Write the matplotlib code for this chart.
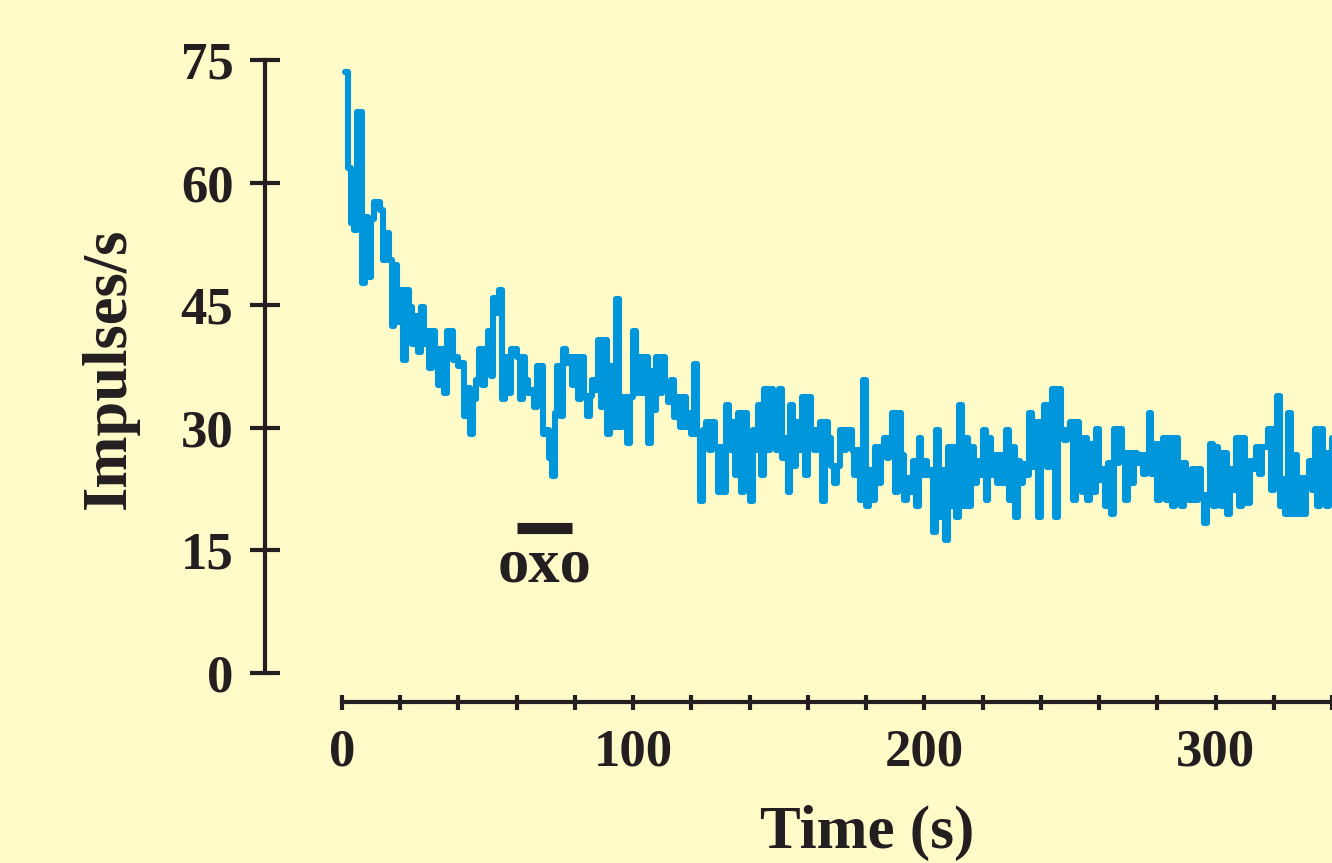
import numpy as np
import matplotlib
matplotlib.use("Agg")
import matplotlib.pyplot as plt

# firing rate, one value per second (t = 1..340 s)
impulser = [
    73.5, 61.8, 55.0, 54.2, 68.6, 68.6, 47.7, 55.8, 48.5, 55.5,
    57.6, 57.6, 56.6, 50.5, 53.8, 50.5, 42.4, 49.9, 43.0, 46.8,
    38.3, 46.8, 44.8, 40.3, 43.7, 39.3, 44.8, 40.3, 41.8, 37.3,
    41.8, 39.7, 35.2, 39.7, 34.2, 41.8, 41.8, 38.3, 38.7, 37.6,
    37.9, 31.4, 34.9, 29.3, 33.5, 35.9, 39.7, 35.2, 39.7, 41.8,
    36.3, 45.9, 44.0, 46.9, 33.5, 38.7, 34.2, 39.7, 39.7, 38.7,
    33.5, 38.7, 35.9, 34.2, 34.6, 32.5, 37.6, 37.6, 29.3, 29.7,
    26.3, 24.1, 31.8, 37.6, 31.4, 39.7, 37.9, 38.7, 35.2, 38.7,
    33.5, 38.7, 33.9, 31.4, 33.9, 35.9, 34.6, 40.7, 32.5, 40.7,
    29.3, 37.6, 30.1, 45.8, 30.1, 33.8, 33.8, 28.1, 33.8, 41.8,
    34.2, 38.7, 34.2, 38.7, 28.1, 36.9, 32.2, 38.7, 34.2, 38.7,
    34.8, 33.2, 35.8, 31.3, 33.8, 30.1, 33.8, 30.1, 31.8, 29.3,
    37.8, 29.3, 21.1, 29.7, 30.7, 27.3, 30.7, 27.7, 22.1, 27.7,
    22.1, 32.8, 27.3, 30.7, 24.2, 31.8, 22.1, 31.8, 25.9, 21.1,
    29.7, 27.3, 32.8, 24.2, 34.8, 27.3, 34.8, 31.8, 27.3, 34.8,
    26.3, 28.7, 22.1, 32.8, 25.3, 30.7, 27.3, 33.8, 24.2, 33.8,
    29.7, 27.3, 29.7, 30.7, 21.1, 30.7, 28.7, 25.3, 23.2, 25.3,
    29.7, 27.3, 29.7, 29.7, 27.3, 24.2, 27.3, 21.2, 35.9, 20.4,
    24.8, 21.2, 27.7, 23.2, 27.7, 28.7, 26.3, 28.7, 31.8, 22.2,
    31.8, 26.7, 21.2, 23.8, 22.2, 25.9, 20.4, 28.7, 24.2, 25.9,
    24.2, 24.8, 17.3, 29.7, 19.1, 24.8, 16.3, 27.7, 20.4, 27.7,
    19.1, 32.8, 20.4, 28.7, 20.4, 27.7, 23.2, 25.9, 24.2, 29.7,
    21.2, 28.7, 24.2, 26.7, 23.2, 26.7, 23.2, 29.7, 21.2, 27.7,
    19.1, 25.9, 23.2, 25.6, 24.2, 31.8, 25.2, 30.7, 19.1, 30.7,
    32.8, 25.2, 32.8, 34.8, 19.1, 34.8, 29.7, 28.5, 29.7, 30.7,
    21.2, 30.7, 28.7, 22.2, 28.7, 21.2, 28.0, 22.2, 29.8, 23.6,
    24.9, 20.4, 25.7, 19.4, 29.8, 25.7, 29.8, 26.9, 21.2, 26.9,
    23.3, 26.9, 25.7, 26.7, 24.3, 26.7, 31.8, 24.3, 28.0, 21.2,
    28.0, 28.7, 21.2, 28.7, 20.4, 28.7, 25.7, 20.4, 25.7, 23.3,
    21.2, 24.9, 21.2, 24.9, 21.8, 18.3, 21.8, 28.0, 20.4, 27.7,
    26.9, 20.4, 26.9, 19.4, 24.9, 22.4, 28.7, 20.4, 28.7, 20.8,
    20.8, 25.9, 24.9, 27.7, 24.3, 27.7, 27.7, 29.8, 22.4, 29.8,
    33.9, 20.4, 23.7, 19.4, 31.8, 19.4, 26.7, 19.4, 23.9, 19.4,
    23.9, 25.9, 22.4, 29.8, 20.4, 29.8, 26.9, 20.4, 26.9, 28.7,
]
tid = np.arange(1, len(impulser) + 1)

# oxo-applicering (bar)
oxo_start = 60
oxo_slut = 79
oxo_niva = 17.8

yticks = [0, 15, 30, 45, 60, 75]
xticks = [0, 100, 200, 300]

bg = "#FFFBC9"
svart = "#231F20"
bla = "#0096DC"
font = "Liberation Serif"

fig = plt.figure(figsize=(13.32, 8.63), dpi=100, facecolor=bg)
ax = fig.add_axes([342 / 1332, 190 / 863, 990 / 1332, 613 / 863])
ax.set_facecolor(bg)

# step trace
t_step = np.append(tid, tid[-1] + 1)
v_step = np.append(impulser, impulser[-1])
ax.step(t_step, v_step, where="post", color=bla, lw=4.4,
        solid_joinstyle="round", solid_capstyle="round", clip_on=False)

ax.plot([oxo_start, oxo_slut], [oxo_niva, oxo_niva], color=svart, lw=8,
        solid_capstyle="butt")
ax.text((oxo_start + oxo_slut) / 2, 13.0, "oxo", ha="center", va="center",
        fontsize=45, fontweight="bold", family=font, color=svart)

ax.set_xlim(0, 990 / 2.92)
ax.set_ylim(0, 75)

for s in ["top", "right"]:
    ax.spines[s].set_visible(False)
ax.spines["left"].set_position(("outward", 55.4))
ax.spines["bottom"].set_position(("outward", 21.2))
ax.spines["left"].set_bounds(0, 75)
for s in ["left", "bottom"]:
    ax.spines[s].set_linewidth(3.0)
    ax.spines[s].set_color(svart)

ax.set_yticks(yticks)
ax.set_xticks(xticks)
ax.set_xticks(np.arange(0, 341, 20), minor=True)
ax.tick_params(axis="y", direction="inout", length=21.6, width=3.0,
               color=svart, pad=12, labelsize=38, labelcolor=svart)
ax.tick_params(axis="x", which="both", direction="inout", length=10.8,
               width=3.0, color=svart, pad=13, labelsize=38,
               labelcolor=svart)
for lab in ax.get_xticklabels() + ax.get_yticklabels():
    lab.set_family(font)
    lab.set_fontweight("bold")

fig.text(110 / 1332, 1 - 368 / 863, "Impulses/s", rotation=90,
         ha="center", va="center", fontsize=45, fontweight="bold",
         family=font, color=svart)
fig.text(867 / 1332, 2 / 863, "Time (s)", ha="center", va="bottom",
         fontsize=44, fontweight="bold", family=font, color=svart)

fig.savefig("out.png", dpi=100, facecolor=bg)
